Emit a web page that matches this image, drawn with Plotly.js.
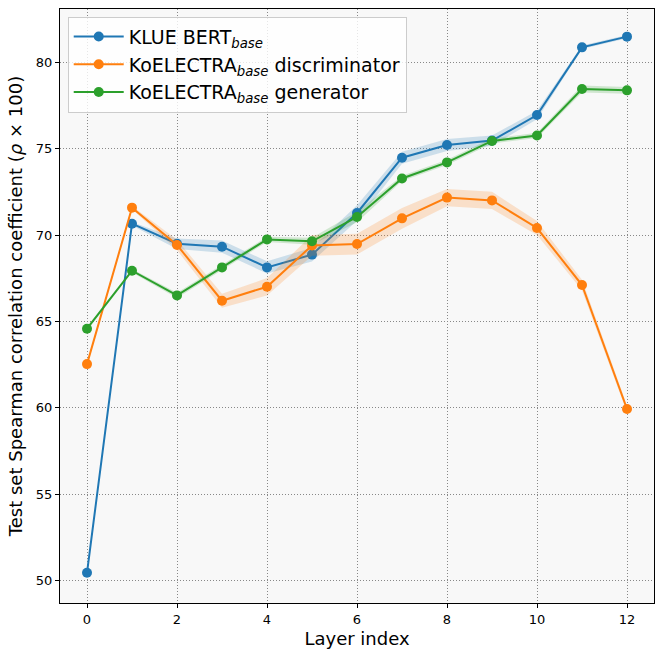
<!DOCTYPE html>
<html>
<head>
<meta charset="utf-8">
<script src="https://cdn.plot.ly/plotly-3.0.1.min.js"></script>
<style>
  html, body { margin: 0; padding: 0; background: #fff; }
  #chart { width: 664px; height: 655px; }
</style>
</head>
<body>
<div id="chart"></div>
<script>
// layer indices
const layers = [0, 1, 2, 3, 4, 5, 6, 7, 8, 9, 10, 11, 12];

// mean spearman (x100) per layer
const klueBert = [50.45, 70.66, 69.5, 69.33, 68.13, 68.87, 71.28, 74.48, 75.22, 75.47, 76.95, 80.87, 81.49];
const koElectraDisc = [62.53, 71.59, 69.43, 66.2, 67.01, 69.4, 69.48, 70.97, 72.17, 72.01, 70.41, 67.11, 59.93];
const koElectraGen = [64.58, 67.94, 66.51, 68.13, 69.75, 69.64, 71.05, 73.28, 74.21, 75.45, 75.77, 78.46, 78.38];

// spread (shaded band half width)
const klueBertStd = [0.1, 0.1, 0.3, 0.35, 0.35, 0.4, 0.45, 0.35, 0.35, 0.3, 0.25, 0.1, 0.1];
const koElectraDiscStd = [0.1, 0.1, 0.3, 0.4, 0.5, 0.6, 0.6, 0.6, 0.5, 0.5, 0.4, 0.3, 0.2];
const koElectraGenStd = [0.1, 0.1, 0.15, 0.15, 0.15, 0.2, 0.3, 0.15, 0.15, 0.15, 0.15, 0.2, 0.2];

const xTicks = [0, 2, 4, 6, 8, 10, 12];
const yTicks = [50, 55, 60, 65, 70, 75, 80];

const colors = {
  blue: "#1f77b4",
  orange: "#ff7f0e",
  green: "#2ca02c",
};

function band(mean, std, fill) {
  let xs = layers.concat(layers.slice().reverse());
  let up = mean.map((v, i) => v + std[i]);
  let lo = mean.map((v, i) => v - std[i]).reverse();
  return {
    type: "scatter",
    x: xs,
    y: up.concat(lo),
    fill: "toself",
    fillcolor: fill,
    line: { width: 0 },
    mode: "lines",
    hoverinfo: "skip",
    showlegend: false,
  };
}

function series(y, color, name) {
  return {
    type: "scatter",
    x: layers,
    y: y,
    mode: "lines+markers",
    line: { color: color, width: 2 },
    marker: { color: color, size: 10 },
    name: name,
  };
}

let data = [
  band(klueBert, klueBertStd, "rgba(31,119,180,0.2)"),
  series(klueBert, colors.blue, "KLUE BERT<sub><i>base</i></sub>"),
  band(koElectraDisc, koElectraDiscStd, "rgba(255,127,14,0.2)"),
  series(koElectraDisc, colors.orange, "KoELECTRA<sub><i>base</i></sub> discriminator"),
  band(koElectraGen, koElectraGenStd, "rgba(44,160,44,0.2)"),
  series(koElectraGen, colors.green, "KoELECTRA<sub><i>base</i></sub> generator"),
];

let axisCommon = {
  showline: true,
  linecolor: "#000",
  linewidth: 1.2,
  mirror: true,
  ticks: "outside",
  ticklen: 4,
  tickwidth: 1,
  tickcolor: "#000",
  showgrid: true,
  gridcolor: "#888",
  griddash: "1px,2px",
  gridwidth: 1,
  zeroline: false,
  tickfont: { family: "DejaVu Sans", size: 13, color: "#000" },
};

let layout = {
  width: 664,
  height: 655,
  margin: { l: 60, r: 10, t: 9, b: 52 },
  paper_bgcolor: "#fff",
  plot_bgcolor: "#f8f8f8",
  font: { family: "DejaVu Sans", color: "#000" },
  showlegend: true,
  legend: {
    x: 0.013,
    y: 0.987,
    xanchor: "left",
    yanchor: "top",
    bgcolor: "rgba(255,255,255,0.8)",
    bordercolor: "#ccc",
    borderwidth: 1,
    itemwidth: 50,
    font: { family: "DejaVu Sans", size: 19, color: "#000" },
    tracegroupgap: 0,
  },
  xaxis: Object.assign({}, axisCommon, {
    range: [-0.6, 12.6],
    tickvals: xTicks,
    ticktext: xTicks.map(String),
    title: { text: "Layer index", font: { family: "DejaVu Sans", size: 18 }, standoff: 6 },
  }),
  yaxis: Object.assign({}, axisCommon, {
    range: [48.7, 83.09],
    tickvals: yTicks,
    ticktext: yTicks.map(String),
    title: {
      text: "Test set Spearman correlation coefficient (<i>ρ</i> × 100)",
      font: { family: "DejaVu Sans", size: 18 },
      standoff: 8,
    },
  }),
};

let config = { displayModeBar: false, staticPlot: true };

Plotly.newPlot("chart", data, layout, config);
</script>
</body>
</html>
